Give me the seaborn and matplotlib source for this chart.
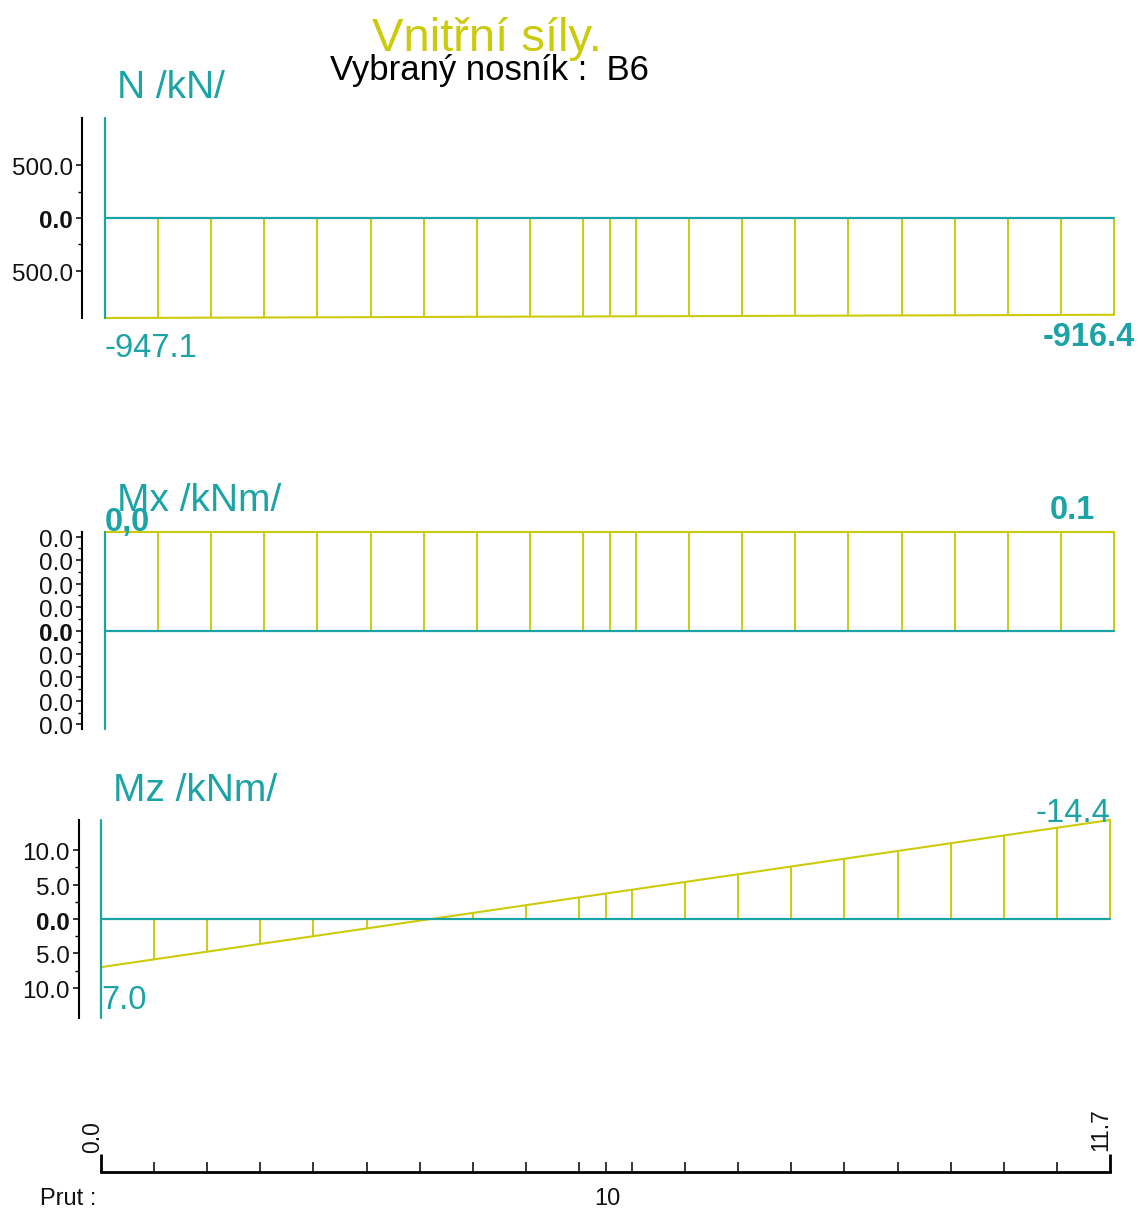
import matplotlib
matplotlib.use("Agg")
import matplotlib.pyplot as plt
import seaborn as sns
import pandas as pd
from matplotlib.ticker import FixedLocator
from matplotlib.transforms import ScaledTranslation

# ---------------- data ----------------
stations = [0.0, 0.616, 1.232, 1.847, 2.463, 3.079, 3.695, 4.311, 4.926, 5.542,
            5.85, 6.158, 6.774, 7.389, 8.005, 8.621, 9.237, 9.853, 10.468, 11.084, 11.7]
n_values = [-947.1, -945.5, -943.9, -942.3, -940.6, -939.0, -937.4, -935.8, -934.2, -932.6,
            -931.8, -931.0, -929.4, -927.7, -926.1, -924.5, -922.9, -921.3, -919.7, -918.0, -916.4]
mx_values = [0.042, 0.042, 0.042, 0.042, 0.042, 0.042, 0.042, 0.042, 0.042, 0.042,
             0.042, 0.042, 0.042, 0.042, 0.042, 0.042, 0.042, 0.042, 0.042, 0.042, 0.042]
mz_values = [7.0, 5.87, 4.75, 3.62, 2.50, 1.37, 0.24, -0.88, -2.01, -3.14,
             -3.70, -4.26, -5.39, -6.51, -7.64, -8.77, -9.89, -11.02, -12.15, -13.27, -14.4]

n_major = [-500.0, 0.0, 500.0]
n_minor = [-250.0, 250.0]
mx_major = [-0.04, -0.03, -0.02, -0.01, 0.0, 0.01, 0.02, 0.03, 0.04]
mx_minor = [-0.035, -0.025, -0.015, -0.005, 0.005, 0.015, 0.025, 0.035]
mz_major = [-10.0, -5.0, 0.0, 5.0, 10.0]
mz_minor = [-7.5, -2.5, 2.5, 7.5]

title = "Vnitřní síly."
subtitle = "Vybraný nosník :  B6"
n_label = "N /kN/"
mx_label = "Mx /kNm/"
mz_label = "Mz /kNm/"
beam_start_label = "0.0"
beam_end_label = "11.7"
node_label = "10"
prut_label = "Prut :"

# ---------------- style ----------------
sns.set_theme(style="ticks")
plt.rcParams["font.family"] = ["Liberation Sans", "DejaVu Sans"]

TEAL = "#1ca3a6"
YELLOW = "#cbcb0c"

W, H = 1138, 1212
fig = plt.figure(figsize=(W / 100, H / 100), dpi=100)
fig.patch.set_facecolor("white")


def rect(x0, y0, x1, y1):
    return [x0 / W, 1 - y1 / H, (x1 - x0) / W, (y1 - y0) / H]


def ftext(x, y, s, **kw):
    fig.text(x / W, 1 - y / H, s, **kw)


def fmt(v):
    return f"{abs(v):.1f}"


def panel(ax, vals, lim, major, minor, spine_px, invert=False):
    df = pd.DataFrame({"x": stations, "v": vals})
    ax.set_xlim(0, 11.7)
    ax.set_ylim(-lim, lim)
    if invert:
        ax.invert_yaxis()
    ax.patch.set_alpha(0)
    ax.vlines(stations[1:], 0, vals[1:], color=YELLOW, lw=1.4, zorder=2, clip_on=False)
    sns.lineplot(data=df, x="x", y="v", ax=ax, color=YELLOW, lw=1.5,
                 estimator=None, sort=False, zorder=3)
    for ln in ax.lines:
        ln.set_clip_on(False)
    ax.axhline(0, color=TEAL, lw=1.6, zorder=4, clip_on=False)
    ax.axvline(0, color=TEAL, lw=1.6, zorder=5, clip_on=False)
    for s in ["top", "right", "bottom"]:
        ax.spines[s].set_visible(False)
    ax.spines["left"].set_position(("outward", spine_px * 0.72))
    ax.spines["left"].set_color("black")
    ax.spines["left"].set_linewidth(1.5)
    ax.xaxis.set_visible(False)
    ax.set_xlabel("")
    ax.set_ylabel("")
    ax.yaxis.set_minor_locator(FixedLocator(minor))
    ax.set_yticks(major, [fmt(v) for v in major])
    ax.tick_params(axis="y", which="major", direction="out", length=4.5, width=1.1,
                   color="black", labelcolor="#111111", labelsize=17.5, pad=2.0, left=True)
    ax.tick_params(axis="y", which="minor", direction="out", length=3, width=1.0,
                   color="black", left=True)
    shift = ScaledTranslation(0, -4 / 100, fig.dpi_scale_trans)
    for t, v in zip(ax.get_yticklabels(), major):
        t.set_verticalalignment("center")
        t.set_transform(t.get_transform() + shift)
        if v == 0:
            t.set_fontweight("bold")


axN = fig.add_axes(rect(105, 118, 1114, 318))
panel(axN, n_values, 947.1, n_major, n_minor, 23)

axMx = fig.add_axes(rect(105, 532, 1114, 729))
panel(axMx, mx_values, 0.042, mx_major, mx_minor, 23)

axMz = fig.add_axes(rect(101, 820, 1110, 1018))
panel(axMz, mz_values, 14.4, mz_major, mz_minor, 22, invert=True)

# bottom beam axis
axX = fig.add_axes(rect(101, 1100, 1110, 1172))
axX.set_xlim(0, 11.7)
axX.set_ylim(0, 1)
axX.patch.set_alpha(0)
for s in ["top", "right", "left"]:
    axX.spines[s].set_visible(False)
axX.spines["bottom"].set_linewidth(2.0)
axX.spines["bottom"].set_color("black")
axX.yaxis.set_visible(False)
axX.set_xticks([stations[0], stations[-1]], ["", ""])
axX.xaxis.set_minor_locator(FixedLocator(stations[1:-1]))
axX.tick_params(axis="x", which="major", direction="in", length=13, width=2.0,
                color="black", bottom=True)
axX.tick_params(axis="x", which="minor", direction="in", length=7, width=1.1,
                color="black", bottom=True)

# ---------------- texts ----------------
ftext(487, 51, title, ha="center", va="baseline", color=YELLOW, fontsize=34)
ftext(489, 80, subtitle, ha="center", va="baseline", color="black", fontsize=25)

ftext(117, 98, n_label, ha="left", va="baseline", color=TEAL, fontsize=28)
ftext(117, 511, mx_label, ha="left", va="baseline", color=TEAL, fontsize=28)
ftext(113, 801, mz_label, ha="left", va="baseline", color=TEAL, fontsize=28)

ftext(105, 357, f"{n_values[0]:.1f}", ha="left", va="baseline", color=TEAL, fontsize=23.5)
ftext(1135, 346, f"{n_values[-1]:.1f}", ha="right", va="baseline", color=TEAL,
      fontsize=23.5, fontweight="bold")
ftext(105, 531, "0,0", ha="left", va="baseline", color=TEAL, fontsize=23.5, fontweight="bold")
ftext(1050, 519, "0.1", ha="left", va="baseline", color=TEAL, fontsize=23.5, fontweight="bold")
ftext(1110, 822, f"{mz_values[-1]:.1f}", ha="right", va="baseline", color=TEAL, fontsize=23.5)
ftext(101, 1009, f"{mz_values[0]:.1f}", ha="left", va="baseline", color=TEAL, fontsize=23.5)

narrow = ["Liberation Sans Narrow", "Liberation Sans", "DejaVu Sans"]
ftext(93, 1153, beam_start_label, rotation=90, ha="center", va="bottom", color="#111111",
      fontsize=16.5)
ftext(1101, 1151, beam_end_label, rotation=90, ha="center", va="bottom", color="#111111",
      fontsize=16.5)
ftext(607, 1199, node_label, ha="center", va="center", color="#111111", fontsize=17, family=narrow)
ftext(40, 1199, prut_label, ha="left", va="center", color="#111111", fontsize=17, family=narrow)

fig.savefig("out.png", dpi=100, facecolor="white")
